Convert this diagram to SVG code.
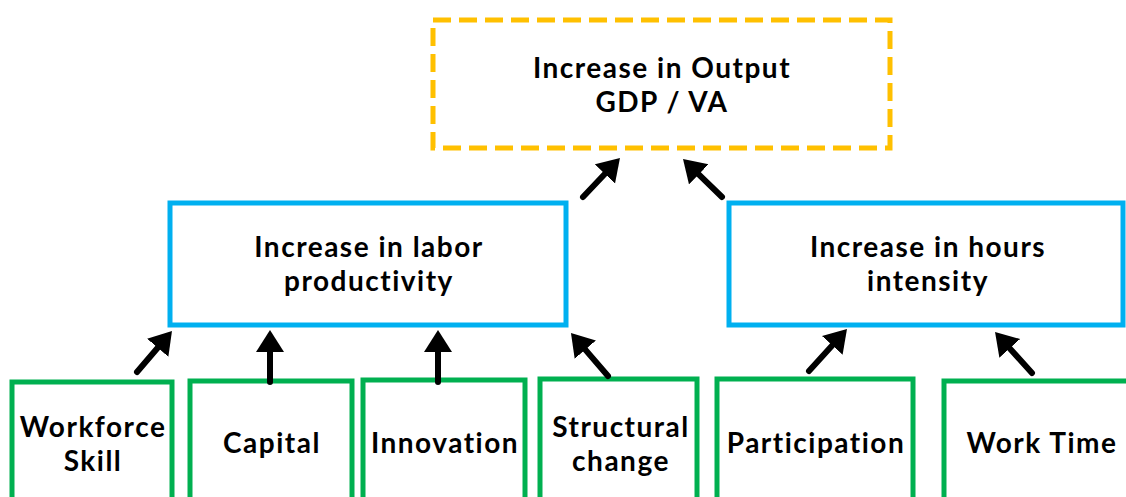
<svg xmlns="http://www.w3.org/2000/svg" width="1126" height="497" viewBox="0 0 1126 497">
<style>
text{font-family:Lato,"Open Sans","Liberation Sans",sans-serif;font-weight:bold;font-size:28px;letter-spacing:1.5px;fill:#000;text-anchor:middle}
.out{fill:#fff;stroke:#FFC000;stroke-width:5;stroke-dasharray:18 8}
.mid{fill:#fff;stroke:#00B0F0;stroke-width:5}
.low{fill:#fff;stroke:#00B050;stroke-width:5}
.arr{stroke:#000;stroke-width:6;stroke-linecap:round;fill:none;marker-end:url(#ah)}
</style>
<defs>
<marker id="ah" markerUnits="userSpaceOnUse" markerWidth="24" markerHeight="30" refX="4" refY="14" orient="auto">
<path d="M0,0 L22,14 L0,28 z" fill="#000"/>
</marker>
</defs>
<rect width="1126" height="497" fill="#fff"/>
<g id="output">
<rect class="out" x="433" y="20" width="457" height="128"/>
<text x="662" y="78">Increase in Output<tspan x="662" dy="34">GDP / VA</tspan></text>
</g>
<g id="labor">
<rect class="mid" x="170" y="203" width="396" height="122"/>
<text x="369" y="257">Increase in labor<tspan x="369" dy="34">productivity</tspan></text>
</g>
<g id="hours">
<rect class="mid" x="729" y="203" width="394" height="122"/>
<text x="928" y="257">Increase in hours<tspan x="928" dy="34">intensity</tspan></text>
</g>
<g id="skill">
<rect class="low" x="12" y="382" width="160" height="140"/>
<text x="93" y="437">Workforce<tspan x="93" dy="34">Skill</tspan></text>
</g>
<g id="capital">
<rect class="low" x="190" y="381" width="162" height="140"/>
<text x="272" y="453">Capital</text>
</g>
<g id="innovation">
<rect class="low" x="363" y="380" width="162" height="140"/>
<text x="445" y="453">Innovation</text>
</g>
<g id="structural">
<rect class="low" x="540" y="379" width="157" height="140"/>
<text x="621" y="437">Structural<tspan x="621" dy="34">change</tspan></text>
</g>
<g id="participation">
<rect class="low" x="717" y="379" width="196" height="140"/>
<text x="816" y="453">Participation</text>
</g>
<g id="worktime">
<rect class="low" x="944" y="381" width="190" height="140"/>
<text x="1042" y="453">Work Time</text>
</g>
<g id="connectors">
<line class="arr" x1="583" y1="197" x2="607.6" y2="171"/>
<line class="arr" x1="722" y1="197" x2="695.9" y2="171.6"/>
<line class="arr" x1="137" y1="372" x2="160.3" y2="344.7"/>
<line class="arr" x1="270" y1="382" x2="270" y2="348"/>
<line class="arr" x1="438" y1="382" x2="438" y2="348"/>
<line class="arr" x1="608" y1="376" x2="582.7" y2="346.6"/>
<line class="arr" x1="809" y1="371" x2="834.9" y2="342.4"/>
<line class="arr" x1="1032" y1="373" x2="1007.1" y2="345.4"/>
</g>
</svg>
